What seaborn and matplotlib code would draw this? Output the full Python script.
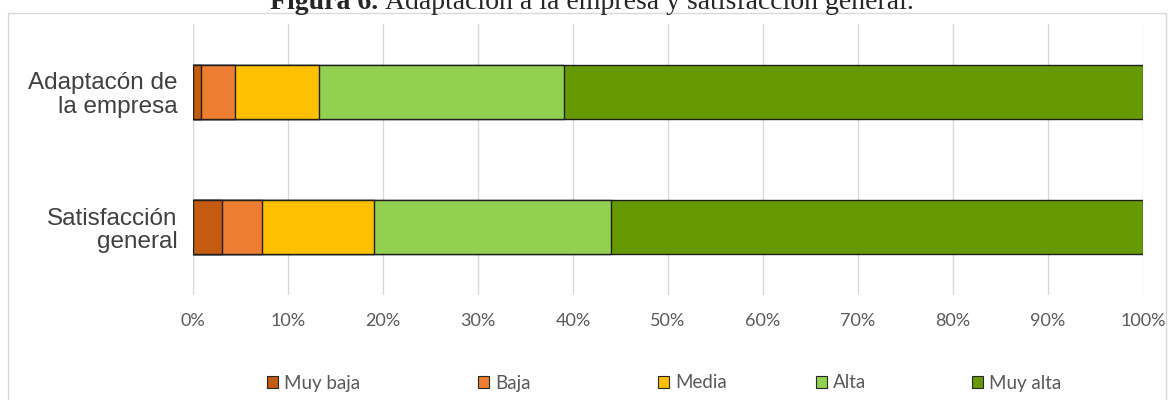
import matplotlib
matplotlib.use("Agg")
import matplotlib.pyplot as plt
import seaborn as sns
import numpy as np
from matplotlib.patches import Patch, Rectangle

# Survey items (rows) and response levels (stacked segments, in %)
items = ["Adaptacón de\nla empresa", "Satisfacción\ngeneral"]
levels = ["Muy baja", "Baja", "Media", "Alta", "Muy alta"]
muy_baja = [0.8, 3.1]
baja = [3.6, 4.2]
media = [8.9, 11.7]
alta = [25.8, 25.0]
muy_alta = [60.9, 56.0]
x_ticks = [0, 10, 20, 30, 40, 50, 60, 70, 80, 90, 100]
x_tick_labels = [f"{t}%" for t in x_ticks]
title_bold = "Figura 6."
title_rest = "Adaptación a la empresa y satisfacción general."

colors = ["#C55A11", "#ED7D31", "#FFC000", "#92D050", "#679A01"]

sns.set_theme(style="white")
plt.rcParams["font.family"] = ["Liberation Sans", "DejaVu Sans"]

W, H = 1171, 400
fig = plt.figure(figsize=(W / 100, H / 100), dpi=100)
fig.patch.set_facecolor("white")

# Light frame around the chart area
fig.patches.append(Rectangle((8 / W, -0.01), (1166 - 8) / W, (400 - 13) / H + 0.01,
                             transform=fig.transFigure, fill=False,
                             edgecolor="#d9d9d9", linewidth=1.0, zorder=0))

ax = fig.add_axes([193 / W, 1 - 295 / H, 950 / W, 271 / H])

# Stacked horizontal bars: draw cumulative totals from the largest down
series = np.array([muy_baja, baja, media, alta, muy_alta])
cum = np.cumsum(series, axis=0)
for i in reversed(range(len(levels))):
    sns.barplot(x=cum[i], y=items, orient="h", color=colors[i], saturation=1,
                width=0.4, edgecolor="#1f1f1f", linewidth=1.0, ax=ax, zorder=3)

ax.set_xlim(0, 100)
ax.set_ylim(1.5, -0.5)
ax.set_xticks(x_ticks)
ax.set_xticklabels(x_tick_labels, fontfamily="Lato", fontsize=13, color="#595959")
ax.set_xlabel("")
ax.set_ylabel("")
for lab in ax.get_yticklabels():
    lab.set_fontsize(17.5)
    lab.set_color("#404040")
    lab.set_linespacing(1.1)
    lab.set_ha("right")
ax.tick_params(axis="x", length=0, pad=13)
ax.tick_params(axis="y", length=0, pad=11)
ax.grid(axis="x", color="#d9d9d9", linewidth=1.0, zorder=0)
ax.grid(axis="y", visible=False)
ax.set_axisbelow(True)
for s in ax.spines.values():
    s.set_visible(False)

# Legend: one entry per slot along the bottom
slot_x = [267, 478, 658, 816, 972]
for c, name, sx in zip(colors, levels, slot_x):
    h = Patch(facecolor=c, edgecolor="#262626", linewidth=0.8)
    leg = fig.legend([h], [name], loc="center left",
                     bbox_to_anchor=(sx / W, 1 - 383 / H), bbox_transform=fig.transFigure,
                     frameon=False, handlelength=0.6, handleheight=0.6,
                     handletextpad=0.3, borderpad=0, borderaxespad=0,
                     prop={"family": "Lato", "size": 13.5})
    for t in leg.get_texts():
        t.set_color("#595959")

# Caption above the chart: bold label followed by regular text
renderer = fig.canvas.get_renderer()
ty = 1 - 9 / H
t1 = fig.text(0, ty, title_bold + " ", fontfamily="Liberation Serif",
              fontweight="bold", fontsize=20, va="baseline", ha="left")
t2 = fig.text(0, ty, title_rest, fontfamily="Liberation Serif",
              fontsize=20, va="baseline", ha="left")
w1 = t1.get_window_extent(renderer).width
w2 = t2.get_window_extent(renderer).width
x0 = 592 - (w1 + w2) / 2
t1.set_x(x0 / W)
t2.set_x((x0 + w1) / W)

fig.savefig("out.png", dpi=100, facecolor="white")
